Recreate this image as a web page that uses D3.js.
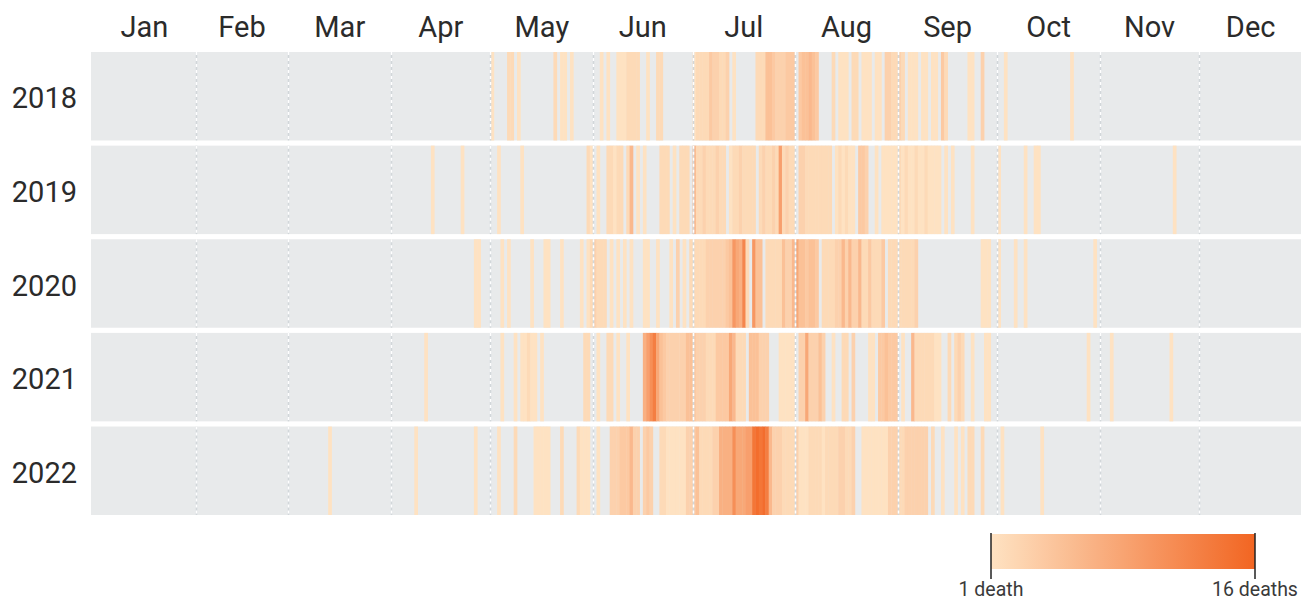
<!DOCTYPE html>
<html>
<head>
<meta charset="utf-8">
<script src="https://cdn.jsdelivr.net/npm/d3@7"></script>
<style>
  html, body { margin: 0; padding: 0; background: #fff; }
  svg { display: block; font-family: Roboto, "Noto Sans", sans-serif; }
</style>
</head>
<body>
<svg id="chart" width="1312" height="600"></svg>
<script>
// ---------- DATA ----------
const years = [2018, 2019, 2020, 2021, 2022];
const monthLabels = ["Jan","Feb","Mar","Apr","May","Jun","Jul","Aug","Sep","Oct","Nov","Dec"];
const monthStartDays = [0,31,59,90,120,151,181,212,243,273,304,334,365];
const legendLabels = ["1 death", "16 deaths"];
const deathRange = [1, 16];

// [day of year (0-based), deaths]
const deaths2018 = [[120,1],[125,2],[126,2],[128,1],[139,2],[141,1],[142,1],[144,1],[153,1],[155,1],
  [158,1],[159,1],[160,1],[161,2],[162,2],[163,2],[164,2],[167,1],[170,2],[171,2],
  [181,1],[182,2],[183,2],[184,2],[185,2],[186,4],[187,3],[188,3],[189,2],[190,2],[191,3],[193,1],
  [200,2],[201,2],[202,2],[203,5],[204,5],[205,4],[206,3],[207,3],[208,3],[209,4],[210,4],[211,4],
  [213,4],[214,5],[215,5],[216,6],[217,5],[218,4],
  [223,2],[225,1],[226,1],[227,1],[229,2],[230,2],[232,1],[233,1],[234,1],[236,1],[237,1],
  [239,3],[240,3],[241,2],[242,2],[243,3],[244,2],[246,1],[247,1],[248,1],[250,1],[251,1],
  [253,1],[254,1],[256,4],[257,2],[264,1],[265,1],[268,3],[275,1],[295,1]];

const deaths2019 = [[102,1],[111,1],[122,1],[129,1],[149,2],[150,1],[152,1],[155,2],[156,2],[157,1],
  [158,2],[159,2],[161,2],[162,6],[164,1],[166,1],[171,2],[172,2],[173,2],[175,1],[177,2],[178,2],[179,2],
  [181,6],[182,2],[183,2],[184,3],[185,2],[186,2],[187,2],[188,3],[189,2],[190,2],[192,1],
  [193,2],[194,2],[195,3],[196,2],[197,2],[198,2],[199,2],[201,2],[202,3],[203,2],[204,2],[205,3],[206,2],
  [207,9],[208,2],[209,3],[210,2],[211,2],[213,3],[214,3],[215,2],[216,2],[217,2],[218,2],[219,2],
  [220,2],[221,2],[222,2],[224,1],[225,2],[226,1],[227,2],[228,1],[229,1],[231,4],[232,4],[233,3],
  [236,1],[238,1],[239,1],[240,1],[241,1],[242,1],[243,2],[244,1],[245,2],[246,1],[247,1],[248,2],
  [249,1],[250,1],[251,2],[252,1],[253,1],[254,1],[255,1],[257,1],[259,1],[265,1],[273,1],[281,1],
  [284,1],[285,1],[326,1]];

const deaths2020 = [[115,1],[116,1],[123,1],[125,1],[132,1],[136,1],[137,1],[141,1],[147,1],[149,1],
  [150,2],[151,3],[152,2],[153,2],[154,2],[156,1],[158,1],[160,1],[162,1],[166,1],[167,1],[170,1],
  [174,1],[176,3],[178,1],[180,2],[181,2],[182,2],[183,2],[184,2],[185,3],[186,3],[187,3],[188,3],
  [189,3],[190,3],[191,4],[192,5],[193,10],[194,8],[195,7],[196,12],[197,2],[199,10],[200,5],[201,5],
  [203,2],[204,2],[205,2],[206,2],[207,2],[208,5],[209,3],[210,3],[211,6],[212,8],[213,5],[214,5],
  [215,4],[216,5],[217,5],[218,4],[220,2],[221,2],[222,2],[223,2],[224,3],[225,3],[226,6],[227,3],
  [228,6],[229,3],[230,3],[231,6],[232,2],[233,2],[234,4],[235,2],[236,2],[237,2],[238,4],[240,2],
  [241,2],[242,2],[243,2],[244,2],[245,2],[246,2],[247,2],[248,3],[268,1],[269,1],[270,1],[273,1],
  [278,1],[281,1],[302,1]];

const deaths2021 = [[100,1],[123,1],[127,1],[129,1],[130,1],[131,2],[132,1],[133,1],[135,1],[148,2],
  [149,2],[152,1],[155,2],[156,2],[158,1],[161,1],[166,7],[167,9],[168,11],[169,13],[170,8],[171,5],
  [172,4],[173,3],[174,3],[175,3],[176,3],[177,3],[178,3],[179,5],[180,5],[181,4],[182,3],[183,3],
  [184,3],[185,2],[186,2],[187,2],[188,4],[189,4],[190,4],[191,4],[192,8],[193,6],[194,2],[195,2],
  [196,2],[198,5],[199,5],[200,5],[201,3],[202,3],[203,3],[207,1],[208,1],[209,1],[210,1],[211,1],
  [213,3],[214,3],[215,8],[216,3],[217,3],[218,3],[219,5],[220,3],[223,1],[226,2],[227,2],[229,3],
  [234,1],[235,1],[237,4],[238,4],[239,5],[240,4],[241,4],[242,4],[244,1],[247,6],[248,2],[249,2],
  [250,2],[251,2],[252,2],[253,2],[254,1],[255,1],[258,2],[260,2],[261,3],[262,2],[265,1],[269,1],
  [270,1],[300,1],[307,1],[325,1]];

const deaths2022 = [[71,1],[97,1],[115,1],[122,1],[127,2],[133,1],[134,1],[135,1],[136,1],[137,1],
  [141,2],[146,2],[147,1],[148,1],[149,1],[152,1],[156,3],[157,3],[158,3],[159,4],[160,4],[161,4],
  [162,6],[163,3],[164,3],[166,3],[167,4],[168,3],[171,2],[172,2],[173,1],[174,1],[175,1],[176,1],
  [177,1],[178,1],[179,3],[180,3],[181,4],[182,5],[183,2],[184,2],[185,2],[186,2],[187,3],[188,3],
  [189,7],[190,7],[191,7],[192,7],[193,11],[194,8],[195,8],[196,8],[197,9],[198,9],[199,14],[200,15],
  [201,14],[202,15],[203,13],[204,6],[205,3],[206,3],[207,3],[208,2],[209,2],[210,2],[211,2],[212,3],
  [213,1],[214,1],[215,1],[216,2],[217,2],[218,2],[219,2],[220,1],[221,2],[222,2],[223,2],[224,2],
  [225,3],[226,3],[227,2],[228,2],[229,3],[232,1],[233,1],[234,1],[235,1],[236,1],[237,1],[238,1],
  [239,1],[240,3],[241,3],[242,3],[243,2],[244,2],[245,3],[246,3],[247,3],[248,3],[249,3],[250,3],
  [251,3],[253,2],[256,1],[260,1],[262,1],[264,2],[265,2],[268,2],[274,1],[286,1]];

const deathsByYear = [deaths2018, deaths2019, deaths2020, deaths2021, deaths2022];

// ---------- CHART ----------
const svg = d3.select("#chart");
const plotLeft = 91, plotRight = 1301, plotTop = 52, plotBottom = 515;

const x = d3.scaleLinear().domain([0, 365]).range([plotLeft + 2, plotRight + 1]);
const y = d3.scaleBand().domain(years).range([plotTop, plotBottom]).paddingInner(0.055);
const color = d3.scaleLinear().domain(deathRange).range(["#fee2c2", "#f26522"]).interpolate(d3.interpolateRgb);

// month labels
svg.append("g").selectAll("text").data(monthLabels).join("text")
  .attr("x", (d, i) => (x(monthStartDays[i]) + x(monthStartDays[i + 1])) / 2)
  .attr("y", 37)
  .attr("text-anchor", "middle")
  .attr("font-size", 29)
  .attr("fill", "#2b2b2b")
  .text(d => d);

// year labels
svg.append("g").selectAll("text").data(years).join("text")
  .attr("x", 77)
  .attr("y", d => y(d) + y.bandwidth() / 2 + 12)
  .attr("text-anchor", "end")
  .attr("font-size", 29)
  .attr("fill", "#2b2b2b")
  .text(d => d);

const rows = svg.append("g").selectAll("g").data(years).join("g")
  .attr("transform", d => `translate(0,${y(d)})`);

rows.append("rect")
  .attr("x", plotLeft).attr("y", 0)
  .attr("width", plotRight - plotLeft)
  .attr("height", y.bandwidth())
  .attr("fill", "#e8eaeb");

rows.each(function (yr, i) {
  d3.select(this).append("g").selectAll("rect").data(deathsByYear[i]).join("rect")
    .attr("x", d => x(d[0]))
    .attr("y", 0)
    .attr("width", d => x(d[0] + 1) - x(d[0]) + 0.4)
    .attr("height", y.bandwidth())
    .attr("fill", d => color(d[1]));
});

// dotted month separators: grey line with white dashes
const seps = rows.append("g").selectAll("g").data(monthStartDays.slice(1, 12)).join("g");
seps.append("line")
  .attr("x1", d => Math.round(x(d)) + 0.5).attr("x2", d => Math.round(x(d)) + 0.5)
  .attr("y1", 0).attr("y2", y.bandwidth())
  .attr("stroke", "#d2d7da")
  .attr("stroke-width", 1.5);
seps.append("line")
  .attr("x1", d => Math.round(x(d)) + 0.5).attr("x2", d => Math.round(x(d)) + 0.5)
  .attr("y1", 0).attr("y2", y.bandwidth())
  .attr("stroke", "#ffffff")
  .attr("stroke-width", 1.5)
  .attr("stroke-dasharray", "3,3");

// legend
const legX = d3.scaleLinear().domain(deathRange).range([991, 1255]);
const defs = svg.append("defs");
const grad = defs.append("linearGradient").attr("id", "lg");
d3.range(0, 1.0001, 0.1).forEach(t => {
  grad.append("stop").attr("offset", t)
    .attr("stop-color", color(deathRange[0] + t * (deathRange[1] - deathRange[0])));
});
svg.append("rect")
  .attr("x", legX(1)).attr("y", 534)
  .attr("width", legX(16) - legX(1)).attr("height", 35)
  .attr("fill", "url(#lg)");
svg.append("g").selectAll("line").data(deathRange).join("line")
  .attr("x1", d => legX(d)).attr("x2", d => legX(d))
  .attr("y1", 533).attr("y2", 579)
  .attr("stroke", "#222").attr("stroke-width", 1.5);
svg.append("g").selectAll("text").data(deathRange).join("text")
  .attr("x", d => legX(d))
  .attr("y", 596)
  .attr("text-anchor", "middle")
  .attr("font-size", 19.5)
  .attr("fill", "#3a3a3a")
  .text((d, i) => legendLabels[i]);
</script>
</body>
</html>
